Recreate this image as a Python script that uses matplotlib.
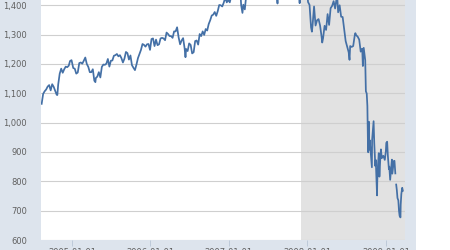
import pandas as pd
import numpy as np
import matplotlib
matplotlib.use("Agg")
import matplotlib.pyplot as plt
from matplotlib.patches import Rectangle

# S&P 500 closes (roughly weekly, extra points at the swings)
dates = [
    # 2004
    "2004-08-13", "2004-08-20", "2004-08-27", "2004-09-03", "2004-09-10", "2004-09-17",
    "2004-09-24", "2004-10-01", "2004-10-08", "2004-10-15", "2004-10-22", "2004-10-25",
    "2004-10-29", "2004-11-05", "2004-11-12", "2004-11-19", "2004-11-26", "2004-12-03",
    "2004-12-10", "2004-12-17", "2004-12-23", "2004-12-30",
    # 2005
    "2005-01-07", "2005-01-14", "2005-01-21", "2005-01-28", "2005-02-04", "2005-02-11",
    "2005-02-18", "2005-02-25", "2005-03-04", "2005-03-11", "2005-03-18", "2005-03-25",
    "2005-04-01", "2005-04-08", "2005-04-15", "2005-04-20", "2005-04-22", "2005-04-29",
    "2005-05-06", "2005-05-13", "2005-05-20", "2005-05-27", "2005-06-03", "2005-06-10",
    "2005-06-17", "2005-06-24", "2005-07-01", "2005-07-08", "2005-07-15", "2005-07-22",
    "2005-07-29", "2005-08-05", "2005-08-12", "2005-08-19", "2005-08-26", "2005-09-02",
    "2005-09-09", "2005-09-16", "2005-09-23", "2005-09-30", "2005-10-07", "2005-10-14",
    "2005-10-21", "2005-10-28", "2005-11-04", "2005-11-11", "2005-11-18", "2005-11-25",
    "2005-12-02", "2005-12-09", "2005-12-16", "2005-12-23", "2005-12-30",
    # 2006
    "2006-01-06", "2006-01-13", "2006-01-20", "2006-01-27", "2006-02-03", "2006-02-10",
    "2006-02-17", "2006-02-24", "2006-03-03", "2006-03-10", "2006-03-17", "2006-03-24",
    "2006-03-31", "2006-04-07", "2006-04-14", "2006-04-21", "2006-04-28", "2006-05-05",
    "2006-05-12", "2006-05-19", "2006-05-26", "2006-06-02", "2006-06-09", "2006-06-13",
    "2006-06-16", "2006-06-23", "2006-06-30", "2006-07-07", "2006-07-14", "2006-07-21",
    "2006-07-28", "2006-08-04", "2006-08-11", "2006-08-18", "2006-08-25", "2006-09-01",
    "2006-09-08", "2006-09-15", "2006-09-22", "2006-09-29", "2006-10-06", "2006-10-13",
    "2006-10-20", "2006-10-27", "2006-11-03", "2006-11-10", "2006-11-17", "2006-11-24",
    "2006-12-01", "2006-12-08", "2006-12-15", "2006-12-22", "2006-12-29",
    # 2007
    "2007-01-05", "2007-01-12", "2007-01-19", "2007-01-26", "2007-02-02", "2007-02-09",
    "2007-02-16", "2007-02-23", "2007-02-27", "2007-03-02", "2007-03-05", "2007-03-09",
    "2007-03-16", "2007-03-23", "2007-03-30", "2007-04-06", "2007-04-13", "2007-04-20",
    "2007-04-27", "2007-05-04", "2007-05-11", "2007-05-18", "2007-05-25", "2007-06-01",
    "2007-06-08", "2007-06-15", "2007-06-22", "2007-06-29", "2007-07-06", "2007-07-13",
    "2007-07-20", "2007-07-27", "2007-08-03", "2007-08-10", "2007-08-15", "2007-08-17",
    "2007-08-24", "2007-08-31", "2007-09-07", "2007-09-14", "2007-09-21", "2007-09-28",
    "2007-10-05", "2007-10-12", "2007-10-19", "2007-10-26", "2007-11-02", "2007-11-09",
    "2007-11-16", "2007-11-23", "2007-11-26", "2007-11-30", "2007-12-07", "2007-12-14",
    "2007-12-21", "2007-12-28",
    # 2008
    "2008-01-04", "2008-01-11", "2008-01-18", "2008-01-22", "2008-01-25", "2008-02-01",
    "2008-02-08", "2008-02-15", "2008-02-22", "2008-02-29", "2008-03-07", "2008-03-10",
    "2008-03-14", "2008-03-21", "2008-03-28", "2008-04-04", "2008-04-11", "2008-04-18",
    "2008-04-25", "2008-05-02", "2008-05-09", "2008-05-16", "2008-05-19", "2008-05-23",
    "2008-05-30", "2008-06-06", "2008-06-13", "2008-06-20", "2008-06-27", "2008-07-03",
    "2008-07-11", "2008-07-15", "2008-07-18", "2008-07-25", "2008-08-01", "2008-08-08",
    "2008-08-11", "2008-08-15", "2008-08-22", "2008-08-29", "2008-09-05", "2008-09-12",
    "2008-09-15", "2008-09-19", "2008-09-26", "2008-09-29", "2008-10-03", "2008-10-06",
    "2008-10-09", "2008-10-10", "2008-10-13", "2008-10-15", "2008-10-17", "2008-10-22",
    "2008-10-24", "2008-10-27", "2008-10-28", "2008-10-31", "2008-11-04", "2008-11-07",
    "2008-11-12", "2008-11-14", "2008-11-20", "2008-11-21", "2008-11-24", "2008-11-28",
    "2008-12-01", "2008-12-05", "2008-12-08", "2008-12-12", "2008-12-19", "2008-12-26",
    "2008-12-31",
    # 2009
    "2009-01-02", "2009-01-06", "2009-01-09", "2009-01-14", "2009-01-16", "2009-01-20",
    "2009-01-23", "2009-01-28", "2009-01-30", "2009-02-06", "2009-02-09", "2009-02-13",
    "2009-02-16", "2009-02-17", "2009-02-20", "2009-02-23", "2009-02-27", "2009-03-02",
    "2009-03-05", "2009-03-09", "2009-03-10", "2009-03-13", "2009-03-17", "2009-03-20",
]

closes = [
    # 2004
    1064, 1098, 1107, 1113, 1123, 1128, 1110, 1131, 1122, 1108, 1095, 1094,
    1130, 1167, 1184, 1170, 1182, 1191, 1189, 1194, 1210, 1213,
    # 2005
    1186, 1184, 1167, 1171, 1203, 1205, 1201, 1211, 1222, 1200, 1190, 1172,
    1172, 1182, 1143, 1138, 1152, 1157, 1172, 1154, 1190, 1198, 1197, 1201,
    1217, 1191, 1211, 1212, 1228, 1230, 1234, 1226, 1230, 1220, 1205, 1218,
    1241, 1237, 1215, 1229, 1196, 1187, 1179, 1198, 1220, 1234, 1248, 1268,
    1265, 1259, 1267, 1268, 1248,
    # 2006
    1285, 1287, 1261, 1283, 1264, 1267, 1287, 1289, 1287, 1281, 1307, 1302,
    1295, 1295, 1289, 1311, 1311, 1325, 1291, 1267, 1280, 1288, 1253, 1223,
    1251, 1244, 1270, 1265, 1236, 1240, 1278, 1280, 1266, 1302, 1295, 1311,
    1299, 1319, 1314, 1336, 1349, 1365, 1368, 1377, 1364, 1380, 1401, 1400,
    1396, 1409, 1427, 1410, 1418,
    # 2007
    1410, 1431, 1431, 1423, 1449, 1438, 1456, 1451, 1400, 1387, 1374, 1402,
    1386, 1437, 1421, 1443, 1453, 1484, 1495, 1506, 1505, 1522, 1515, 1537,
    1507, 1533, 1503, 1503, 1531, 1552, 1534, 1459, 1433, 1453, 1406, 1445,
    1479, 1474, 1454, 1484, 1525, 1527, 1557, 1562, 1501, 1536, 1509, 1453,
    1458, 1440, 1407, 1481, 1504, 1467, 1484, 1478,
    # 2008
    1411, 1401, 1325, 1310, 1331, 1396, 1331, 1349, 1353, 1331, 1293, 1273,
    1288, 1330, 1316, 1370, 1333, 1390, 1398, 1414, 1389, 1425, 1427, 1376,
    1400, 1361, 1360, 1318, 1278, 1262, 1240, 1214, 1261, 1258, 1261, 1296,
    1305, 1298, 1293, 1283, 1242, 1252, 1193, 1255, 1213, 1107, 1099, 1057,
    910, 899, 1003, 908, 940, 896, 877, 848, 941, 968, 1005, 930,
    852, 873, 752, 800, 852, 896, 816, 876, 909, 879, 887, 873,
    903,
    # 2009 (holiday gap on Presidents' Day)
    931, 935, 890, 842, 850, 805, 832, 874, 826, 869, 870, 827,
    np.nan, 789, 770, 743, 735, 700, 682, 677, 720, 757, 778, 768,
]

y_ticks = [600, 700, 800, 900, 1000, 1100, 1200, 1300, 1400]
x_ticks = ["2005-01-01", "2006-01-01", "2007-01-01", "2008-01-01", "2009-01-01"]
recession = ("2007-12-01", "2009-06-01")

s = pd.Series(closes, index=pd.to_datetime(dates), dtype=float)

panel = "#dde4ed"
fig = plt.figure(figsize=(4.5, 2.5), dpi=100, facecolor="white")
fig.patches.append(Rectangle((0, 0), 416 / 450, 1, transform=fig.transFigure,
                             facecolor=panel, edgecolor="none", zorder=-10))

ax = fig.add_axes([41 / 450, 10 / 250, 364 / 450, 240 / 250])
ax.set_facecolor("white")

ax.axvspan(pd.Timestamp(recession[0]), pd.Timestamp(recession[1]),
           color="#e2e2e2", lw=0, zorder=0)
ax.plot(s.index, s.values, color="#4470a6", lw=1.25, zorder=3)

ax.set_xlim(pd.Timestamp("2004-08-10"), pd.Timestamp("2009-03-30"))
ax.set_ylim(600, 1418)

ax.set_yticks(y_ticks)
ax.set_yticklabels([f"{v:,}" for v in y_ticks])
ax.set_xticks(pd.to_datetime(x_ticks))
ax.set_xticklabels(x_ticks)

ax.grid(axis="y", color="#cfcfcf", lw=0.8, zorder=1)
ax.set_axisbelow(True)
for sp in ax.spines.values():
    sp.set_visible(False)

ax.tick_params(axis="y", length=0, pad=10, labelsize=6, labelcolor="#606060")
ax.tick_params(axis="x", length=4, width=0.6, color="#b9c6d6", pad=1.5,
               labelsize=6, labelcolor="#606060")

fig.savefig("out.png", dpi=100, facecolor=fig.get_facecolor())
